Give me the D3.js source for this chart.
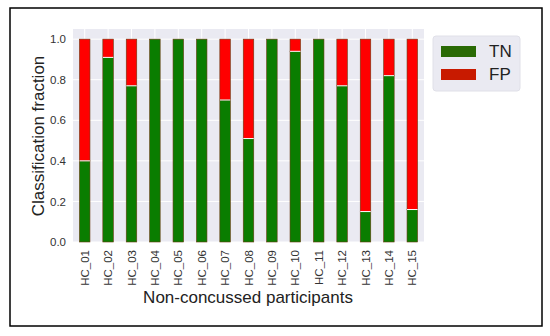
<!DOCTYPE html>
<html><head><meta charset="utf-8">
<script src="https://cdn.jsdelivr.net/npm/d3@7"></script>
<style>body{margin:0;background:#fff}svg{display:block;font-family:"Liberation Sans",Arial,sans-serif}</style>
</head><body><svg id="c" width="550" height="336"></svg>
<script>
const categories = ["HC_01","HC_02","HC_03","HC_04","HC_05","HC_06","HC_07","HC_08","HC_09","HC_10","HC_11","HC_12","HC_13","HC_14","HC_15"];
const tnValues = [0.40,0.91,0.77,1.0,1.0,1.0,0.70,0.51,1.0,0.94,1.0,0.77,0.15,0.82,0.16];
const fpValues = tnValues.map(v => 1 - v);
const yTicks = [0,0.2,0.4,0.6,0.8,1.0];
const seriesNames = ["TN","FP"];
const colors = {TN:"#0a7d00", FP:"#ff0000"};

const svg = d3.select("#c");
svg.append("rect").attr("x",10).attr("y",8).attr("width",532).attr("height",318)
  .attr("fill","#fff").attr("stroke","#000").attr("stroke-width",1.5);

const m = {l:73, t:29, r:424, b:242};
const x = d3.scaleBand().domain(categories).range([m.l,m.r]).paddingInner(0.55).paddingOuter(0.275);
const y = d3.scaleLinear().domain([0,1.05]).range([m.b,m.t]);

svg.append("rect").attr("x",m.l).attr("y",m.t).attr("width",m.r-m.l).attr("height",m.b-m.t).attr("fill","#eaeaf2");
const g = svg.append("g");
g.selectAll(".hg").data(yTicks).join("line").attr("x1",m.l).attr("x2",m.r)
  .attr("y1",d=>y(d)).attr("y2",d=>y(d)).attr("stroke","#fff").attr("stroke-width",1);
g.selectAll(".vg").data(categories).join("line").attr("y1",m.t).attr("y2",m.b)
  .attr("x1",d=>x(d)+x.bandwidth()/2).attr("x2",d=>x(d)+x.bandwidth()/2).attr("stroke","#fff");

const rows = categories.map((c,i)=>({cat:c, TN:tnValues[i], FP:fpValues[i]}));
const stack = d3.stack().keys(seriesNames)(rows);
stack.forEach(s=>{
  g.selectAll(null).data(s).join("rect")
    .attr("x",d=>x(d.data.cat)).attr("width",x.bandwidth())
    .attr("y",d=>y(d[1])).attr("height",d=>Math.max(0,y(d[0])-y(d[1])))
    .attr("fill",colors[s.key]).attr("stroke","#6a3a10").attr("stroke-width",0.6);
});
g.selectAll(".sep").data(rows.filter(r=>r.TN<1)).join("line")
  .attr("x1",d=>x(d.cat)).attr("x2",d=>x(d.cat)+x.bandwidth())
  .attr("y1",d=>y(d.TN)).attr("y2",d=>y(d.TN)).attr("stroke","#fff").attr("stroke-width",1);

const yAxis = svg.append("g").attr("transform",`translate(${m.l},0)`)
  .call(d3.axisLeft(y).tickValues(yTicks).tickFormat(d3.format(".1f")).tickSize(0).tickPadding(7));
yAxis.select(".domain").remove();
yAxis.selectAll("text").attr("font-size",11.5).attr("fill","#333").attr("font-family","Liberation Sans, Arial");

const xAxis = svg.append("g").attr("transform",`translate(0,${m.b})`)
  .call(d3.axisBottom(x).tickSize(0).tickPadding(0));
xAxis.select(".domain").remove();
xAxis.selectAll("text").attr("font-size",11.5).attr("fill","#333").attr("font-family","Liberation Sans, Arial")
  .attr("text-anchor","end").attr("dy","0.35em")
  .attr("transform","translate(0,8) rotate(-90)").attr("x",0).attr("y",0);

svg.append("text").attr("x",248).attr("y",303).attr("text-anchor","middle")
  .attr("font-size",17).attr("fill","#222").text("Non-concussed participants");
svg.append("text").attr("transform","translate(44,136) rotate(-90)").attr("text-anchor","middle")
  .attr("font-size",17).attr("fill","#222").text("Classification fraction");

const lg = svg.append("g");
lg.append("rect").attr("x",433).attr("y",36).attr("width",87).attr("height",55).attr("rx",3)
  .attr("fill","#eaeaf2").attr("stroke","#e0e0e8");
const legColors = {TN:"#2a6a05", FP:"#c81a00"};
seriesNames.forEach((k,i)=>{
  lg.append("rect").attr("x",441).attr("y",46+i*23).attr("width",35).attr("height",11)
    .attr("fill",legColors[k]);
  lg.append("text").attr("x",489).attr("y",51.5+i*23).attr("dy","0.35em")
    .attr("font-size",17).attr("fill","#222").text(k);
});
</script></body></html>
